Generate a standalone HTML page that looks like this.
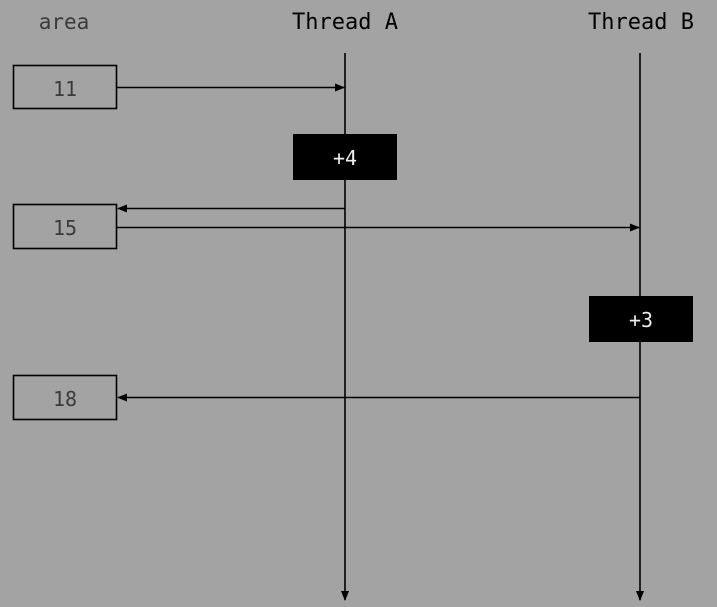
<!DOCTYPE html>
<html><head><style>body{margin:0;background:#a3a3a3}</style></head><body>
<svg width="717" height="607" xmlns="http://www.w3.org/2000/svg" style="display:block">
<rect width="717" height="607" fill="#a3a3a3"/>
<defs><marker id="a" markerWidth="10" markerHeight="8" refX="9" refY="4" orient="auto" markerUnits="userSpaceOnUse"><path d="M0,0 L10,4 L0,8z" fill="#000"/></marker></defs>
<g font-family="DejaVu Sans Mono, Liberation Mono, monospace" text-anchor="middle">
<text x="64" y="29" font-size="21" fill="#3a3a3a">area</text>
<text x="345" y="29" font-size="22" fill="#000">Thread A</text>
<text x="641" y="29" font-size="22" fill="#000">Thread B</text>
<g stroke="#000" stroke-width="1.6" fill="none">
<line x1="345" y1="53" x2="345" y2="600" marker-end="url(#a)"/>
<line x1="640" y1="53" x2="640" y2="600" marker-end="url(#a)"/>
<rect x="13.5" y="65.5" width="103" height="43"/>
<rect x="13.5" y="204.5" width="103" height="44"/>
<rect x="13.5" y="375.5" width="103" height="44"/>
<line x1="117" y1="87.5" x2="344" y2="87.5" marker-end="url(#a)"/>
<line x1="345" y1="208.5" x2="118" y2="208.5" marker-end="url(#a)"/>
<line x1="117" y1="227.5" x2="639" y2="227.5" marker-end="url(#a)"/>
<line x1="640" y1="397.5" x2="118" y2="397.5" marker-end="url(#a)"/>
</g>
<rect x="293" y="134" width="104" height="46" fill="#000"/>
<rect x="589" y="296" width="104" height="46" fill="#000"/>
<g font-size="20" fill="#3a3a3a">
<text x="65" y="96">11</text><text x="65" y="235">15</text><text x="65" y="406">18</text>
</g>
<g font-size="20" fill="#eee">
<text x="345" y="165">+4</text><text x="641" y="327">+3</text>
</g>
</g>
</svg>
</body></html>
